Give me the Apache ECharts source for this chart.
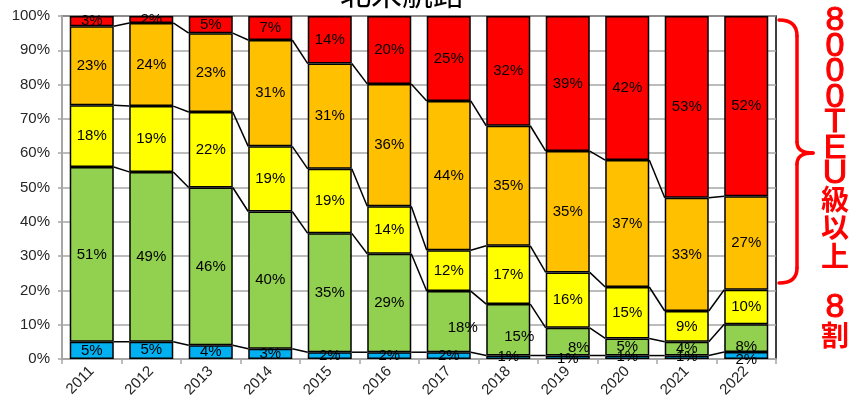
<!DOCTYPE html>
<html>
<head>
<meta charset="utf-8">
<script src="https://cdn.jsdelivr.net/npm/echarts@6/dist/echarts.min.js"></script>
<style>
  html, body { margin: 0; padding: 0; background: #fff; }
  #chart { width: 850px; height: 405px; }
</style>
</head>
<body>
<div id="chart"></div>
<script>
// North America route: share of ship-size bands per year (%), smallest band first
const years = ['2011', '2012', '2013', '2014', '2015', '2016', '2017', '2018', '2019', '2020', '2021', '2022'];
const band1 = [5, 5, 4, 3, 2, 2, 2, 1, 1, 1, 1, 2];
const band2 = [51, 49, 46, 40, 35, 29, 18, 15, 8, 5, 4, 8];
const band3 = [18, 19, 22, 19, 19, 14, 12, 17, 16, 15, 9, 10];
const band4 = [23, 24, 23, 31, 31, 36, 44, 35, 35, 37, 33, 27];
const band5 = [3, 2, 5, 7, 14, 20, 25, 32, 39, 42, 53, 52]; // 8000TEU and above

const yTicks = [0, 10, 20, 30, 40, 50, 60, 70, 80, 90, 100];
const titleText = '北米航路';
const noteUpper = ['8', '0', '0', '0', 'T', 'E', 'U', '級', '以', '上'];
const noteLower = ['8', '割'];

const bands = [band1, band2, band3, band4, band5];
const colors = ['#00B0F0', '#92D050', '#FFFF00', '#FFC000', '#FF0000'];

// 100% stacking: each band is drawn as its share of the year's total
const totals = years.map((_, i) => bands.reduce((s, b) => s + b[i], 0));
const stacked = bands.map(b => b.map((v, i) => v / totals[i] * 100));
const tops = years.map((_, i) => {
  let acc = 0;
  return stacked.slice(0, 4).map(b => (acc += b[i]));
});

// hand-placed label nudges (series index -> category index -> [dx, dy])
const labelNudge = {
  1: { 6: [14, 6], 7: [11, 7], 8: [11, 6], 11: [0, 9] },
  0: { 8: [0, 2], 11: [0, 4] }
};

const BAR_RATIO = 0.74;
const labelFont = 'Liberation Sans, Arial, sans-serif';

const barSeries = stacked.map((vals, s) => ({
  type: 'bar',
  stack: 'share',
  barWidth: (BAR_RATIO * 100) + '%',
  itemStyle: { color: colors[s], borderColor: '#000', borderWidth: 1.5 },
  label: {
    show: true,
    position: 'inside',
    color: '#000',
    fontSize: 15,
    fontFamily: labelFont,
    formatter: p => bands[s][p.dataIndex] + '%'
  },
  z: 3,
  data: vals.map((v, i) => {
    const n = labelNudge[s] && labelNudge[s][i];
    return n ? { value: v, label: { offset: n } } : v;
  })
}));

// connector lines between neighbouring bars at every band boundary
const connectorSeries = {
  type: 'custom',
  z: 4,
  silent: true,
  encode: { x: 0, y: 1 },
  data: years.slice(0, -1).map((_, i) => [i, 0]),
  renderItem: (params, api) => {
    const i = api.value(0);
    const bw = api.size([1, 0])[0] * BAR_RATIO;
    return {
      type: 'group',
      children: tops[i].map((v, k) => {
        const a = api.coord([i, v]);
        const b = api.coord([i + 1, tops[i + 1][k]]);
        return {
          type: 'line',
          shape: { x1: a[0] + bw / 2, y1: a[1], x2: b[0] - bw / 2, y2: b[1] },
          style: { stroke: '#000', lineWidth: 1.5 }
        };
      })
    };
  }
};

// bracket + side note
const latinCenters = [21, 46.5, 72, 97.5, 123, 148.5, 174];
const cjkCenters = [199, 227, 256];
const noteX = 835;
const noteStyle = (ch, isCjk) => ({
  text: ch,
  fill: '#FF0000',
  stroke: isCjk ? null : '#FF0000',
  lineWidth: isCjk ? 0 : 1,
  fontSize: isCjk ? 28 : 34,
  fontWeight: isCjk ? 'bold' : 'normal',
  fontFamily: isCjk ? 'Noto Sans CJK JP' : 'Liberation Sans, Arial',
  align: 'center',
  verticalAlign: 'middle'
});
const noteGraphics = [];
noteUpper.forEach((ch, i) => {
  const isCjk = i >= 7;
  noteGraphics.push({
    type: 'text', x: noteX,
    y: isCjk ? cjkCenters[i - 7] : latinCenters[i],
    style: noteStyle(ch, isCjk)
  });
});
noteGraphics.push({ type: 'text', x: noteX, y: 307.5, style: noteStyle(noteLower[0], false) });
noteGraphics.push({ type: 'text', x: noteX, y: 335.5, style: noteStyle(noteLower[1], true) });

const braceStyle = { stroke: '#FF0000', lineWidth: 3.5, fill: null, lineCap: 'round' };
const braceParts = [
  { type: 'bezierCurve', shape: { x1: 779, y1: 20, cpx1: 797, cpy1: 20, x2: 797, y2: 36 } },
  { type: 'line', shape: { x1: 797, y1: 36, x2: 797, y2: 142 } },
  { type: 'bezierCurve', shape: { x1: 797, y1: 142, cpx1: 797, cpy1: 153, x2: 813, y2: 153 } },
  { type: 'bezierCurve', shape: { x1: 813, y1: 153, cpx1: 797, cpy1: 153, x2: 797, y2: 164 } },
  { type: 'line', shape: { x1: 797, y1: 164, x2: 797, y2: 268 } },
  { type: 'bezierCurve', shape: { x1: 797, y1: 268, cpx1: 797, cpy1: 283, x2: 779, y2: 283 } }
].map(p => Object.assign(p, { style: braceStyle }));

const chart = echarts.init(document.getElementById('chart'), null, { renderer: 'canvas' });
chart.setOption({
  animation: false,
  backgroundColor: '#fff',
  grid: {
    left: 62, right: 74, top: 16, bottom: 46,
    show: true, borderColor: '#000', borderWidth: 1.5, backgroundColor: 'transparent'
  },
  xAxis: {
    type: 'category',
    data: years,
    boundaryGap: true,
    axisLine: { lineStyle: { color: '#a6a6a6', width: 2 } },
    axisTick: { show: true, length: 5, lineStyle: { color: '#a6a6a6', width: 1.5 } },
    axisLabel: {
      rotate: 45, color: '#262626', fontSize: 15, fontFamily: labelFont, margin: 10
    },
    splitLine: { show: false }
  },
  yAxis: {
    type: 'value',
    min: yTicks[0],
    max: yTicks[yTicks.length - 1],
    interval: yTicks[1] - yTicks[0],
    axisLine: { show: true, lineStyle: { color: '#a6a6a6', width: 2 } },
    axisTick: { show: true, length: 4, lineStyle: { color: '#a6a6a6', width: 1.5 } },
    axisLabel: {
      color: '#262626', fontSize: 15, fontFamily: labelFont, margin: 12,
      formatter: v => v + '%'
    },
    splitLine: { show: true, lineStyle: { color: '#a6a6a6', width: 1.5 } }
  },
  series: [...barSeries, connectorSeries],
  graphic: [
    {
      type: 'text',
      x: 402,
      y: -7,
      style: {
        text: titleText,
        fill: '#000',
        fontSize: 31,
        fontFamily: 'Noto Sans CJK JP',
        align: 'center',
        verticalAlign: 'middle'
      }
    },
    { type: 'group', children: braceParts },
    ...noteGraphics
  ]
});
</script>
</body>
</html>
